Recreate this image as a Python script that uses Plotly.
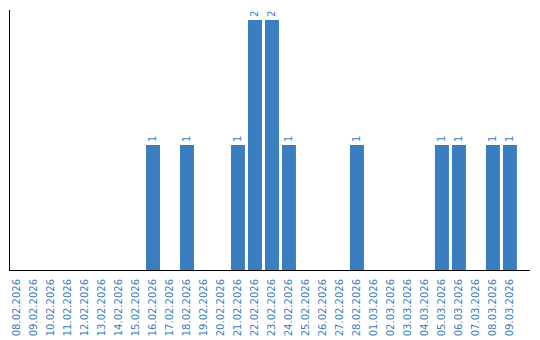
import plotly.graph_objects as go

dates = ["08.02.2026", "09.02.2026", "10.02.2026", "11.02.2026", "12.02.2026",
         "13.02.2026", "14.02.2026", "15.02.2026", "16.02.2026", "17.02.2026",
         "18.02.2026", "19.02.2026", "20.02.2026", "21.02.2026", "22.02.2026",
         "23.02.2026", "24.02.2026", "25.02.2026", "26.02.2026", "27.02.2026",
         "28.02.2026", "01.03.2026", "02.03.2026", "03.03.2026", "04.03.2026",
         "05.03.2026", "06.03.2026", "07.03.2026", "08.03.2026", "09.03.2026"]
counts = [0, 0, 0, 0, 0, 0, 0, 0, 1, 0,
          1, 0, 0, 1, 2, 2, 1, 0, 0, 0,
          1, 0, 0, 0, 0, 1, 1, 0, 1, 1]

blue = "#3a7ec2"
fam = "Verdana, 'DejaVu Sans', sans-serif"
labels = [str(v) if v > 0 else "" for v in counts]

fig = go.Figure(go.Bar(
    x=dates, y=counts, marker_color=blue, marker_line_width=0,
    text=labels, textposition="outside", textangle=-90,
    textfont=dict(family=fam, size=10, color=blue),
    cliponaxis=False,
))
fig.update_layout(
    width=540, height=340,
    margin=dict(l=10, r=10, t=10, b=70),
    paper_bgcolor="white", plot_bgcolor="white",
    bargap=3 / 17,
    showlegend=False,
    font=dict(family=fam, size=10, color=blue),
    uniformtext=dict(minsize=10, mode="show"),
)
fig.update_xaxes(
    type="category", range=[-7 / 17, 30.18], automargin=False,
    showline=True, linecolor="black", linewidth=1,
    showgrid=False, zeroline=False,
    ticks="outside", ticklen=4, tickcolor="rgba(0,0,0,0)",
    tickangle=-90, tickfont=dict(family=fam, size=10, color=blue),
)
fig.update_yaxes(
    range=[0, 2.08], automargin=False,
    showline=True, linecolor="black", linewidth=1,
    showgrid=False, zeroline=False, showticklabels=False, ticks="",
)
fig.write_html("out.html")
